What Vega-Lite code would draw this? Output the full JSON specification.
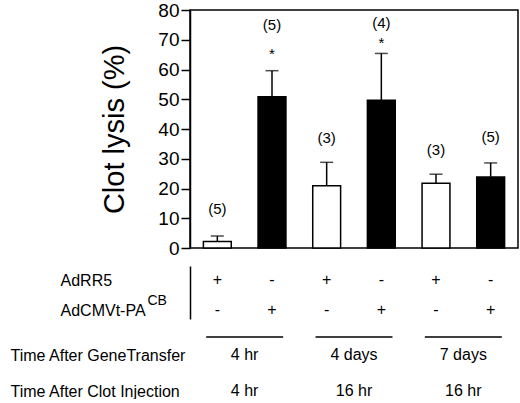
{
  "$schema": "https://vega.github.io/schema/vega-lite/v6.json",
  "padding": {"left": 10, "top": 0, "right": 0, "bottom": 0},
  "spacing": 18,
  "bounds": "flush",
  "config": {
    "font": "Liberation Sans",
    "view": {"stroke": null},
    "axis": {"grid": false, "labelColor": "black", "titleColor": "black", "domainColor": "black", "tickColor": "black"}
  },
  "vconcat": [
    {
      "width": 328,
      "height": 238,
      "view": {"stroke": "black", "strokeWidth": 1.5},
      "resolve": {"axis": {"y": "independent"}},
      "encoding": {
        "x": {"field": "bar", "type": "nominal", "axis": null,
              "scale": {"domain": ["b1", "b2", "b3", "b4", "b5", "b6"], "paddingInner": 0.49, "paddingOuter": 0.245}}
      },
      "layer": [
        {
          "data": {
            "values": [
              {"bar": "b1", "vector": "AdRR5", "lysis": 2.2, "upper": 4.0},
              {"bar": "b2", "vector": "AdCMVt-PA", "lysis": 50.8, "upper": 59.6},
              {"bar": "b3", "vector": "AdRR5", "lysis": 20.9, "upper": 28.8},
              {"bar": "b4", "vector": "AdCMVt-PA", "lysis": 49.7, "upper": 65.4},
              {"bar": "b5", "vector": "AdRR5", "lysis": 21.8, "upper": 24.8},
              {"bar": "b6", "vector": "AdCMVt-PA", "lysis": 23.9, "upper": 28.6}
            ]
          },
          "mark": {"type": "bar", "stroke": "black", "strokeWidth": 1.5},
          "encoding": {
            "y": {
              "field": "lysis", "type": "quantitative",
              "scale": {"domain": [0, 80], "nice": false},
              "axis": {
                "title": "Clot lysis (%)",
                "values": [0, 10, 20, 30, 40, 50, 60, 70, 80],
                "labelOverlap": false,
                "titleFontSize": 29, "titleFontWeight": "normal", "titlePadding": 28,
                "labelFontSize": 19, "labelPadding": 2,
                "tickSize": 9, "tickWidth": 1.5, "domainWidth": 1.5
              }
            },
            "fill": {
              "field": "vector", "type": "nominal", "legend": null,
              "scale": {"domain": ["AdRR5", "AdCMVt-PA"], "range": ["white", "black"]}
            }
          }
        },
        {
          "data": {
            "values": [
              {"bar": "b1", "lysis": 2.2, "upper": 4.0},
              {"bar": "b2", "lysis": 50.8, "upper": 59.6},
              {"bar": "b3", "lysis": 20.9, "upper": 28.8},
              {"bar": "b4", "lysis": 49.7, "upper": 65.4},
              {"bar": "b5", "lysis": 21.8, "upper": 24.8},
              {"bar": "b6", "lysis": 23.9, "upper": 28.6}
            ]
          },
          "mark": {"type": "rule", "color": "black", "strokeWidth": 1.5},
          "encoding": {
            "y": {"field": "lysis", "type": "quantitative", "axis": null},
            "y2": {"field": "upper"}
          }
        },
        {
          "data": {
            "values": [
              {"bar": "b1", "upper": 4.0},
              {"bar": "b2", "upper": 59.6},
              {"bar": "b3", "upper": 28.8},
              {"bar": "b4", "upper": 65.4},
              {"bar": "b5", "upper": 24.8},
              {"bar": "b6", "upper": 28.6}
            ]
          },
          "mark": {"type": "tick", "color": "black", "thickness": 1.5, "size": 13},
          "encoding": {
            "y": {"field": "upper", "type": "quantitative", "axis": null}
          }
        },
        {
          "data": {
            "values": [
              {"bar": "b1", "note": "(5)", "at": 13},
              {"bar": "b2", "note": "(5)", "at": 74.8},
              {"bar": "b2", "note": "*", "at": 65.3},
              {"bar": "b3", "note": "(3)", "at": 37},
              {"bar": "b4", "note": "(4)", "at": 75.5},
              {"bar": "b4", "note": "*", "at": 69},
              {"bar": "b5", "note": "(3)", "at": 33},
              {"bar": "b6", "note": "(5)", "at": 37.3}
            ]
          },
          "mark": {"type": "text", "fontSize": 15, "color": "black", "baseline": "middle"},
          "encoding": {
            "y": {"field": "at", "type": "quantitative", "axis": null},
            "text": {"field": "note"}
          }
        }
      ]
    },
    {
      "width": 328,
      "height": 53,
      "data": {
        "values": [
          {"bar": "b1", "vector": "AdRR5", "sign": "+"},
          {"bar": "b2", "vector": "AdRR5", "sign": "-"},
          {"bar": "b3", "vector": "AdRR5", "sign": "+"},
          {"bar": "b4", "vector": "AdRR5", "sign": "-"},
          {"bar": "b5", "vector": "AdRR5", "sign": "+"},
          {"bar": "b6", "vector": "AdRR5", "sign": "-"},
          {"bar": "b1", "vector": "AdCMVt-PA", "sign": "-"},
          {"bar": "b2", "vector": "AdCMVt-PA", "sign": "+"},
          {"bar": "b3", "vector": "AdCMVt-PA", "sign": "-"},
          {"bar": "b4", "vector": "AdCMVt-PA", "sign": "+"},
          {"bar": "b5", "vector": "AdCMVt-PA", "sign": "-"},
          {"bar": "b6", "vector": "AdCMVt-PA", "sign": "+"}
        ]
      },
      "mark": {"type": "text", "fontSize": 16, "color": "black"},
      "encoding": {
        "x": {"field": "bar", "type": "nominal", "axis": null,
              "scale": {"paddingInner": 0.49, "paddingOuter": 0.245}},
        "y": {
          "field": "vector", "type": "nominal",
          "scale": {"type": "point", "domain": ["AdRR5", "AdCMVt-PA"], "padding": 0.383, "align": 0.61},
          "axis": {
            "title": "CB", "titleAngle": 0, "titleX": -43, "titleY": 38,
            "titleAlign": "left", "titleBaseline": "alphabetic",
            "titleFontSize": 14, "titleFontWeight": "normal",
            "labelAlign": "left", "labelPadding": 130, "labelFontSize": 16,
            "ticks": false, "domainWidth": 1.5
          }
        },
        "text": {"field": "sign"}
      }
    },
    {
      "width": 328,
      "height": 54,
      "data": {
        "values": [
          {"first": "b1", "second": "b2", "gene": "4 hr", "clot": "4 hr"},
          {"first": "b3", "second": "b4", "gene": "4 days", "clot": "16 hr"},
          {"first": "b5", "second": "b6", "gene": "7 days", "clot": "16 hr"}
        ]
      },
      "encoding": {
        "y": {
          "datum": "rule", "type": "nominal",
          "scale": {"type": "point", "padding": 0,
                    "domain": ["rule", "Time After GeneTransfer", "gap", "Time After Clot Injection"]},
          "axis": {
            "title": null,
            "values": ["Time After GeneTransfer", "Time After Clot Injection"],
            "labelAlign": "left", "labelPadding": 180, "labelFontSize": 16,
            "ticks": false, "domain": false
          }
        }
      },
      "layer": [
        {
          "mark": {"type": "rule", "color": "black", "strokeWidth": 1.5},
          "encoding": {
            "x": {"field": "first", "type": "nominal", "axis": null, "bandPosition": 0.1,
                  "scale": {"domain": ["b1", "b2", "b3", "b4", "b5", "b6"], "paddingInner": 0.49, "paddingOuter": 0.245}},
            "x2": {"field": "second", "bandPosition": 0.9}
          }
        },
        {
          "mark": {"type": "text", "fontSize": 16, "color": "black"},
          "encoding": {
            "x": {"field": "first", "type": "nominal", "bandPosition": 1.48},
            "y": {"datum": "Time After GeneTransfer", "type": "nominal"},
            "text": {"field": "gene"}
          }
        },
        {
          "mark": {"type": "text", "fontSize": 16, "color": "black"},
          "encoding": {
            "x": {"field": "first", "type": "nominal", "bandPosition": 1.48},
            "y": {"datum": "Time After Clot Injection", "type": "nominal"},
            "text": {"field": "clot"}
          }
        }
      ]
    }
  ]
}
